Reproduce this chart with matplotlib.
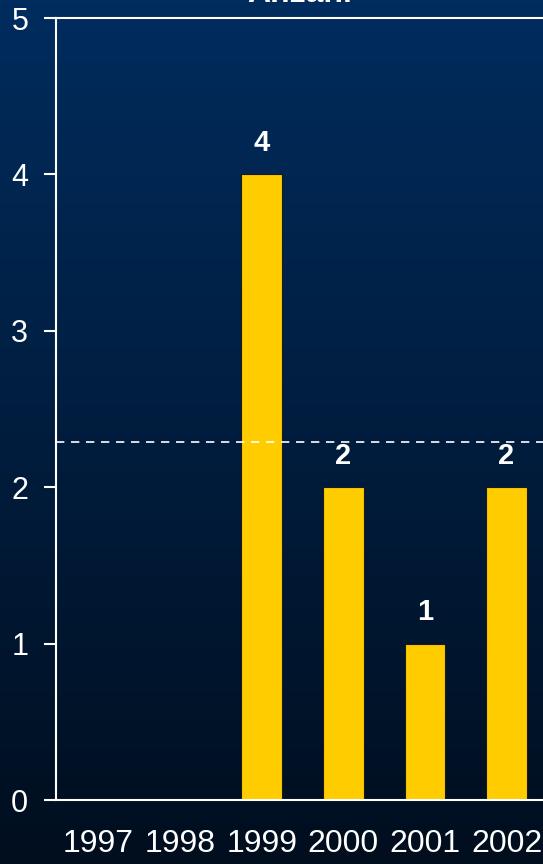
import numpy as np
import matplotlib.pyplot as plt
from matplotlib.colors import LinearSegmentedColormap

# data
years = ['1997', '1998', '1999', '2000', '2001', '2002']
counts = [0, 0, 4, 2, 1, 2]
mean_line = 2.29
title = 'Anzahl'

plt.rcParams['font.family'] = ['Liberation Sans', 'DejaVu Sans']

W, H = 543, 864
fig = plt.figure(figsize=(W / 100, H / 100), dpi=100)

# background gradient (dark blue at top -> near black at bottom)
bg = fig.add_axes([0, 0, 1, 1], zorder=-10)
cmap = LinearSegmentedColormap.from_list('bg', ['#000e1e', '#002c5e'])
grad = np.linspace(0, 1, 256).reshape(-1, 1)
bg.imshow(grad, aspect='auto', cmap=cmap, origin='lower', extent=[0, 1, 0, 1])
bg.axis('off')

ax = fig.add_axes([56 / W, 64 / H, 493 / W, 782 / H])
ax.patch.set_alpha(0)

x = np.arange(len(years))
ax.bar(x, counts, width=0.5, color='#ffcc00', edgecolor='#1a1a1a', linewidth=0.8, zorder=2)
for xi, v in zip(x, counts):
    if v > 0:
        ax.text(xi, v + 0.15, str(v), ha='center', va='baseline', color='white',
                fontsize=21, fontweight='bold', zorder=3)

ax.axhline(mean_line, color='white', linestyle=(0, (5, 4)), linewidth=1.2, zorder=4)

ax.set_xlim(-0.52, 5.52)
ax.set_ylim(0, 5)
ax.set_yticks([0, 1, 2, 3, 4, 5])
ax.set_xticks(x)
ax.set_xticklabels(years)

for s in ['left', 'bottom', 'top']:
    ax.spines[s].set_color('white')
    ax.spines[s].set_linewidth(1.5)
ax.spines['right'].set_visible(False)

ax.tick_params(axis='y', colors='white', labelsize=22, length=9, width=1.5, pad=11, direction='out')
ax.tick_params(axis='x', colors='white', labelsize=23, length=0, pad=21)

# title sits mostly above the top edge, as in the source image
fig.text(300 / W, 1 - 2 / H, title, ha='center', va='baseline', color='white',
         fontsize=23, fontweight='bold')

fig.savefig('out.png', dpi=100)
